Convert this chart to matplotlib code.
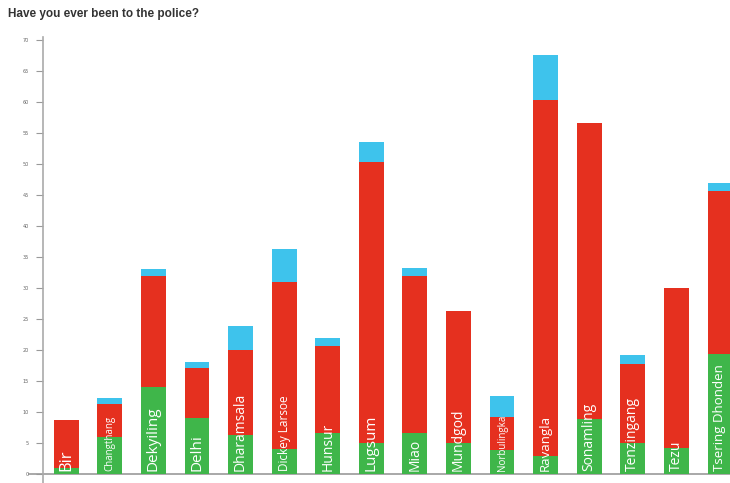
import matplotlib.pyplot as plt

# Data
places = ["Bir", "Changthang", "Dekyiling", "Delhi", "Dharamsala", "Dickey Larsoe",
          "Hunsur", "Lugsum", "Miao", "Mundgod", "Norbulingka", "Ravangla",
          "Sonamling", "Tenzingang", "Tezu", "Tsering Dhonden"]
green_vals = [1, 6, 14, 9, 6.3, 4, 6.6, 5, 6.5, 5, 3.9, 2.8, 8.9, 5, 4.2, 19.3]
red_vals = [7.7, 5.3, 18, 8, 13.7, 27, 14, 45.4, 25.5, 21.3, 5.3, 57.5, 47.8, 12.7, 25.8, 26.4]
blue_vals = [0, 1, 1.1, 1, 3.8, 5.3, 1.3, 3.2, 1.2, 0, 3.3, 7.4, 0, 1.4, 0, 1.3]
label_sizes = [12, 7, 11, 11, 10, 8.5, 10, 11, 10, 10, 7, 9.5, 10, 10, 10, 9.5]
yticks = list(range(0, 75, 5))

green = '#3fb64a'
red = '#e5301f'
blue = '#3ec3ec'

fig = plt.figure(figsize=(7.3, 4.83), dpi=100)
ax = fig.add_axes([0.059, 0.0, 0.941, 0.923])

x = list(range(len(places)))
w = 0.57
bottoms2 = [g + r for g, r in zip(green_vals, red_vals)]
ax.bar(x, green_vals, width=w, color=green, zorder=2)
ax.bar(x, red_vals, width=w, bottom=green_vals, color=red, zorder=2)
ax.bar(x, blue_vals, width=w, bottom=bottoms2, color=blue, zorder=2)

# names written up the bars
for i in x:
    ax.text(i, 0.5, places[i], rotation=90, ha='center', va='bottom',
            color='white', fontsize=label_sizes[i], family='Open Sans', zorder=3)

ax.set_xlim(-0.53, 15.23)
ax.set_ylim(-1.5, 70.5)
ax.set_xticks([])
ax.set_yticks(yticks)
ax.set_yticklabels([str(t) for t in yticks], fontsize=3.5, color='#666666')
ax.tick_params(axis='y', length=5, width=0.8, color='#999999', pad=5)
for s in ['top', 'right', 'bottom']:
    ax.spines[s].set_visible(False)
ax.spines['left'].set_color('#aaaaaa')
ax.spines['left'].set_linewidth(1.2)

# baseline
ax.plot([-0.02, 1], [0, 0], transform=ax.get_yaxis_transform(), color='#999999',
        lw=1.2, clip_on=False, zorder=1)

fig.text(0.011, 0.972, "Have you ever been to the police?", fontsize=8.5,
         fontweight='bold', color='#333333', family='Liberation Sans', va='center')

fig.savefig('out.png', dpi=100)
